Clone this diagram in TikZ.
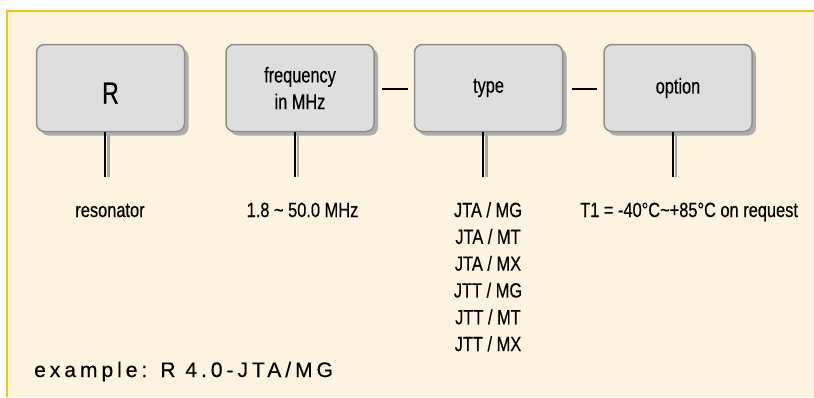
\documentclass[tikz,border=0pt]{standalone}
\usepackage{fontspec}
\setmainfont{Liberation Sans}[FakeStretch=0.80,FakeBold=0.4]
\newfontfamily\boxfont{Liberation Sans}[FakeStretch=0.76,FakeBold=0.4]
\newfontfamily\exfont{Liberation Sans}[LetterSpace=19,FakeBold=0.4]
\usetikzlibrary{shadows}
\definecolor{cream}{HTML}{FEF3DE}
\definecolor{gold}{HTML}{F5C800}
\definecolor{boxfill}{HTML}{DEDEDE}
\definecolor{boxline}{HTML}{8E8E8E}
\definecolor{shadowgray}{HTML}{ADADAD}
\definecolor{palegray}{HTML}{A8A8A8}
\begin{document}
\begin{tikzpicture}[x=1pt,y=-1pt,
  box/.style={draw=boxline, line width=1.5pt, fill=boxfill, rounded corners=8pt,
    minimum width=148pt, minimum height=87pt, inner sep=0pt, align=center,
    font=\boxfont\fontsize{21.5}{26.7}\selectfont,
    drop shadow={shadow xshift=4pt, shadow yshift=-4pt, fill=shadowgray, opacity=1}},
  lbl/.style={font=\fontsize{20.5}{26.8}\selectfont, inner sep=0pt, align=center},
  blk/.style={line width=2pt, black},
  gry/.style={line width=2.5pt, palegray},
  exstyle/.style={font=\exfont\fontsize{21}{24}\selectfont, inner sep=0pt}
]
\useasboundingbox (0,0) rectangle (814,397);
% panel
\fill[cream] (7,11) rectangle (814,397);
\draw[gold, line width=2pt] (7,397) -- (7,11) -- (814,11);

% boxes
\node[box] (R) at (110.5,88) {\fontsize{30.5}{31}\selectfont\raisebox{-5pt}[21pt][0pt]{R}};
\node[box] (F) at (300,88) {frequency\\in MHz};
\node[box] (T) at (488.5,88) {\raisebox{-1.5pt}{type}};
\node[box] (O) at (678,88) {\raisebox{-1.5pt}{option}};

% end points of the stems
\coordinate (R-end) at (110.5,176.5);
\coordinate (F-end) at (300,176.5);
\coordinate (T-end) at (488.5,176.5);
\coordinate (O-end) at (678,176.5);

\foreach \n in {R,F,T,O}{
  \draw[blk] ([xshift=-5.5pt]\n.south) -- ([xshift=-5.5pt]\n-end);
  \draw[gry] ([xshift=-2pt]\n.south) -- ([xshift=-2pt]\n-end);
}

% horizontal connectors
\draw[blk] ([xshift=7pt,yshift=-1pt]F.east) -- ([xshift=-6pt,yshift=-1pt]T.west);
\draw[blk] ([xshift=8.5pt,yshift=-1pt]T.east) -- ([xshift=-6pt,yshift=-1pt]O.west);

% labels
\node[lbl, anchor=base] (resl) at (110,217) {resonator};
\node[lbl, anchor=base] (freql) at (302.5,217) {1.8 \textasciitilde{} 50.0 MHz};
\node[lbl, anchor=north] (typel) at (488,202) {JTA / MG\\JTA / MT\\JTA / MX\\JTT / MG\\JTT / MT\\JTT / MX};
\node[lbl, anchor=base west] (optl) at (580,217) {T1 = -40°C\textasciitilde+85°C on request};

% example
\node[exstyle, anchor=base west] (ex) at (34,377) {example: R 4.0-JTA/MG};
\end{tikzpicture}
\end{document}
